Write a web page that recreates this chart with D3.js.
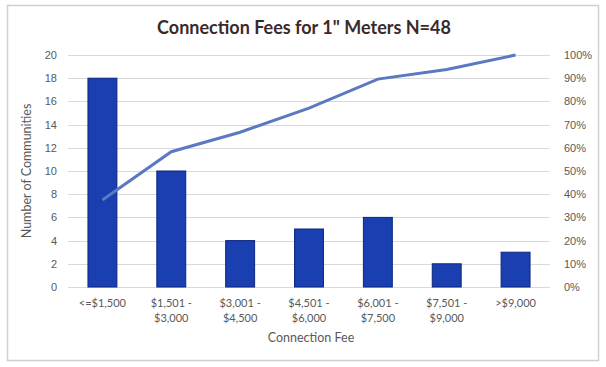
<!DOCTYPE html>
<html><head><meta charset="utf-8">
<script src="https://cdn.jsdelivr.net/npm/d3@7"></script>
<style>body{margin:0;background:#fff;}svg{display:block;font-family:Lato,"Open Sans",sans-serif;}</style>
</head><body><svg id="c" width="606" height="367"></svg>
<script>
const categories = ["<=$1,500","$1,501 -|$3,000","$3,001 -|$4,500","$4,501 -|$6,000","$6,001 -|$7,500","$7,501 -|$9,000",">$9,000"];
const counts = [18,10,4,5,6,2,3];
const cumulativePct = [0.375,0.583,0.667,0.771,0.896,0.9375,1.0];
const leftTicks = [0,2,4,6,8,10,12,14,16,18,20];
const rightTicks = [0,0.1,0.2,0.3,0.4,0.5,0.6,0.7,0.8,0.9,1.0];

const svg = d3.select("#c");
svg.append("rect").attr("x",7.5).attr("y",5.5).attr("width",591).attr("height",355)
  .attr("fill","#fff").attr("stroke","#d0d0d0").attr("stroke-width",1.5);

const L=68, R=550, T=55, B=287;
const x = d3.scaleBand().domain(categories).range([L,R]).paddingInner(0.58).paddingOuter(0.29);
const y = d3.scaleLinear().domain([0,20]).range([B,T]);
const y2 = d3.scaleLinear().domain([0,1]).range([B,T]);

svg.append("g").selectAll("line").data(leftTicks).join("line")
  .attr("x1",L).attr("x2",R).attr("y1",d=>Math.round(y(d))+0.5).attr("y2",d=>Math.round(y(d))+0.5)
  .attr("stroke","#d9d9d9").attr("stroke-width",1);

const ya = svg.append("g").attr("transform",`translate(${L},0)`)
  .call(d3.axisLeft(y).tickValues(leftTicks).tickSize(0).tickPadding(11));
ya.select(".domain").remove();
ya.selectAll("text").attr("fill","#595959").style("font-size","11px");

const yb = svg.append("g").attr("transform",`translate(${R},0)`)
  .call(d3.axisRight(y2).tickValues(rightTicks).tickSize(0).tickPadding(14).tickFormat(d3.format(".0%")));
yb.select(".domain").remove();
yb.selectAll("text").attr("fill","#595959").style("font-size","11px");

svg.append("g").selectAll("rect").data(counts).join("rect")
  .attr("x",(d,i)=>x(categories[i])).attr("width",x.bandwidth())
  .attr("y",d=>y(d)).attr("height",d=>B-y(d))
  .attr("fill","#1a3fb0").attr("stroke","#0d2580").attr("stroke-width",1);

svg.append("path").datum(cumulativePct)
  .attr("d",d3.line().x((d,i)=>x(categories[i])+x.bandwidth()/2).y(d=>y2(d)))
  .attr("fill","none").attr("stroke","#5b79c2").attr("stroke-width",3);

const xl = svg.append("g").selectAll("text").data(categories).join("text")
  .attr("x",d=>x(d)+x.bandwidth()/2).attr("y",307).attr("text-anchor","middle")
  .attr("fill","#595959").style("font-size","11px");
xl.each(function(d){
  const parts=d.split("|"); const t=d3.select(this);
  parts.forEach((p,i)=>t.append("tspan").attr("x",x(d)+x.bandwidth()/2).attr("dy",i?15:0).text(p));
});

svg.append("text").attr("x",(L+R)/2+2).attr("y",342).attr("text-anchor","middle")
  .attr("fill","#595959").style("font-size","12.5px").text("Connection Fee");
svg.append("text").attr("transform",`translate(31,${(T+B)/2}) rotate(-90)`).attr("text-anchor","middle")
  .attr("fill","#595959").style("font-size","12.5px").text("Number of Communities");
svg.append("text").attr("x",304).attr("y",34).attr("text-anchor","middle")
  .attr("fill","#3b2a2a").style("font-size","18px").style("font-weight","bold").text("Connection Fees for 1\" Meters N=48");
</script></body></html>
